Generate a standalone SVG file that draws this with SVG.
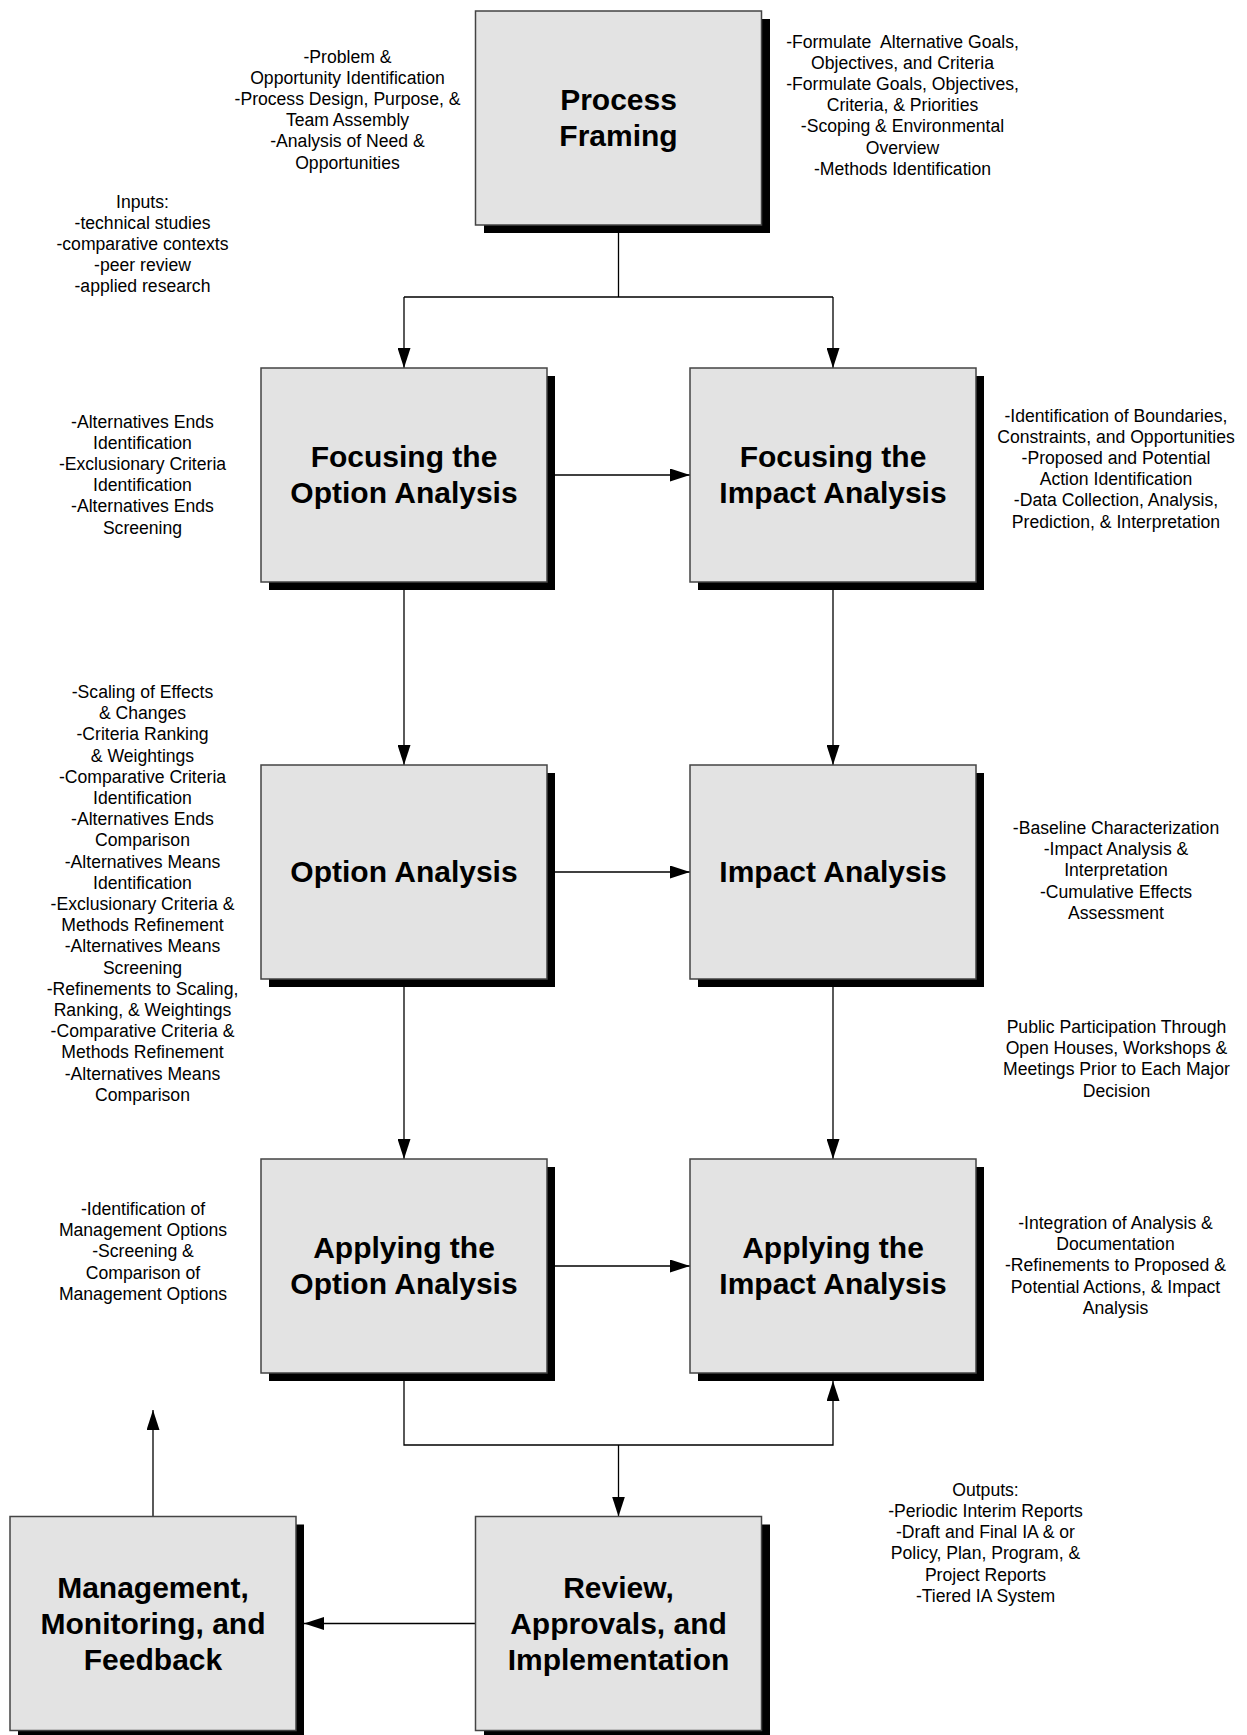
<svg xmlns="http://www.w3.org/2000/svg" width="1247" height="1735" viewBox="0 0 1247 1735">
<style>
.box{fill:#e3e3e3;stroke:#444;stroke-width:1.5}
.shd{fill:#000}
.ttl{font-family:"Liberation Sans",Arial,sans-serif;font-weight:bold;font-size:30px;text-anchor:middle;fill:#000}
.note{font-family:"Liberation Sans",Arial,sans-serif;font-size:17.6px;text-anchor:middle;fill:#000}
.ln{fill:none;stroke:#000;stroke-width:1.3}
</style>
<defs>
<marker id="ah" markerUnits="userSpaceOnUse" markerWidth="20" markerHeight="13" refX="20" refY="6.5" orient="auto">
<path d="M0,0 L20,6.5 L0,13 z" fill="#000"/>
</marker>
</defs>
<rect width="1247" height="1735" fill="#fff"/>

<g id="connectors">
<path class="ln" d="M618.5,225 V297 M404,297 H833"/>
<path class="ln" d="M404,297 V368" marker-end="url(#ah)"/>
<path class="ln" d="M833,297 V368" marker-end="url(#ah)"/>
<path class="ln" d="M547,475 H690" marker-end="url(#ah)"/>
<path class="ln" d="M404,582 V765" marker-end="url(#ah)"/>
<path class="ln" d="M833,582 V765" marker-end="url(#ah)"/>
<path class="ln" d="M547,872 H690" marker-end="url(#ah)"/>
<path class="ln" d="M404,979 V1159" marker-end="url(#ah)"/>
<path class="ln" d="M833,979 V1159" marker-end="url(#ah)"/>
<path class="ln" d="M547,1266 H690" marker-end="url(#ah)"/>
<path class="ln" d="M404,1373 V1445 H833 V1381" marker-end="url(#ah)"/>
<path class="ln" d="M618.5,1445 V1516.5" marker-end="url(#ah)"/>
<path class="ln" d="M475.5,1623.5 H304" marker-end="url(#ah)"/>
<path class="ln" d="M153,1516.5 V1410" marker-end="url(#ah)"/>
</g>

<g id="process-framing">
<rect class="shd" x="484" y="19" width="286" height="214"/>
<rect class="box" x="475.5" y="11" width="286" height="214"/>
<text class="ttl"><tspan x="618.5" y="109.5">Process</tspan><tspan x="618.5" y="145.5">Framing</tspan></text>
</g>

<g id="focusing-option">
<rect class="shd" x="269" y="376" width="286" height="214"/>
<rect class="box" x="261" y="368" width="286" height="214"/>
<text class="ttl"><tspan x="404" y="466.75">Focusing the</tspan><tspan x="404" y="502.75">Option Analysis</tspan></text>
</g>

<g id="focusing-impact">
<rect class="shd" x="698" y="376" width="286" height="214"/>
<rect class="box" x="690" y="368" width="286" height="214"/>
<text class="ttl"><tspan x="833" y="466.75">Focusing the</tspan><tspan x="833" y="502.75">Impact Analysis</tspan></text>
</g>

<g id="option-analysis">
<rect class="shd" x="269" y="773" width="286" height="214"/>
<rect class="box" x="261" y="765" width="286" height="214"/>
<text class="ttl" x="404" y="882">Option Analysis</text>
</g>

<g id="impact-analysis">
<rect class="shd" x="698" y="773" width="286" height="214"/>
<rect class="box" x="690" y="765" width="286" height="214"/>
<text class="ttl" x="833" y="882">Impact Analysis</text>
</g>

<g id="applying-option">
<rect class="shd" x="269" y="1167" width="286" height="214"/>
<rect class="box" x="261" y="1159" width="286" height="214"/>
<text class="ttl"><tspan x="404" y="1258">Applying the</tspan><tspan x="404" y="1294">Option Analysis</tspan></text>
</g>

<g id="applying-impact">
<rect class="shd" x="698" y="1167" width="286" height="214"/>
<rect class="box" x="690" y="1159" width="286" height="214"/>
<text class="ttl"><tspan x="833" y="1258">Applying the</tspan><tspan x="833" y="1294">Impact Analysis</tspan></text>
</g>

<g id="review">
<rect class="shd" x="484" y="1524.5" width="286" height="214"/>
<rect class="box" x="475.5" y="1516.5" width="286" height="214"/>
<text class="ttl"><tspan x="618.5" y="1597.5">Review,</tspan><tspan x="618.5" y="1633.5">Approvals, and</tspan><tspan x="618.5" y="1669.5">Implementation</tspan></text>
</g>

<g id="management">
<rect class="shd" x="18" y="1524.5" width="286" height="214"/>
<rect class="box" x="10" y="1516.5" width="286" height="214"/>
<text class="ttl"><tspan x="153" y="1597.5">Management,</tspan><tspan x="153" y="1633.5">Monitoring, and</tspan><tspan x="153" y="1669.5">Feedback</tspan></text>
</g>

<g id="notes">
<text class="note"><tspan x="347.5" y="62.5">-Problem &amp;</tspan><tspan x="347.5" dy="21.2">Opportunity Identification</tspan><tspan x="347.5" dy="21.2">-Process Design, Purpose, &amp;</tspan><tspan x="347.5" dy="21.2">Team Assembly</tspan><tspan x="347.5" dy="21.2">-Analysis of Need &amp;</tspan><tspan x="347.5" dy="21.2">Opportunities</tspan></text>

<text class="note"><tspan x="142.5" y="207.5">Inputs:</tspan><tspan x="142.5" dy="21.2">-technical studies</tspan><tspan x="142.5" dy="21.2">-comparative contexts</tspan><tspan x="142.5" dy="21.2">-peer review</tspan><tspan x="142.5" dy="21.2">-applied research</tspan></text>

<text class="note" xml:space="preserve"><tspan x="902.5" y="47.5">-Formulate  Alternative Goals,</tspan><tspan x="902.5" dy="21.2">Objectives, and Criteria</tspan><tspan x="902.5" dy="21.2">-Formulate Goals, Objectives,</tspan><tspan x="902.5" dy="21.2">Criteria, &amp; Priorities</tspan><tspan x="902.5" dy="21.2">-Scoping &amp; Environmental</tspan><tspan x="902.5" dy="21.2">Overview</tspan><tspan x="902.5" dy="21.2">-Methods Identification</tspan></text>

<text class="note"><tspan x="142.5" y="427.5">-Alternatives Ends</tspan><tspan x="142.5" dy="21.2">Identification</tspan><tspan x="142.5" dy="21.2">-Exclusionary Criteria</tspan><tspan x="142.5" dy="21.2">Identification</tspan><tspan x="142.5" dy="21.2">-Alternatives Ends</tspan><tspan x="142.5" dy="21.2">Screening</tspan></text>

<text class="note"><tspan x="1116" y="421.5">-Identification of Boundaries,</tspan><tspan x="1116" dy="21.2">Constraints, and Opportunities</tspan><tspan x="1116" dy="21.2">-Proposed and Potential</tspan><tspan x="1116" dy="21.2">Action Identification</tspan><tspan x="1116" dy="21.2">-Data Collection, Analysis,</tspan><tspan x="1116" dy="21.2">Prediction, &amp; Interpretation</tspan></text>

<text class="note"><tspan x="142.5" y="698">-Scaling of Effects</tspan><tspan x="142.5" dy="21.2">&amp; Changes</tspan><tspan x="142.5" dy="21.2">-Criteria Ranking</tspan><tspan x="142.5" dy="21.2">&amp; Weightings</tspan><tspan x="142.5" dy="21.2">-Comparative Criteria</tspan><tspan x="142.5" dy="21.2">Identification</tspan><tspan x="142.5" dy="21.2">-Alternatives Ends</tspan><tspan x="142.5" dy="21.2">Comparison</tspan><tspan x="142.5" dy="21.2">-Alternatives Means</tspan><tspan x="142.5" dy="21.2">Identification</tspan><tspan x="142.5" dy="21.2">-Exclusionary Criteria &amp;</tspan><tspan x="142.5" dy="21.2">Methods Refinement</tspan><tspan x="142.5" dy="21.2">-Alternatives Means</tspan><tspan x="142.5" dy="21.2">Screening</tspan><tspan x="142.5" dy="21.2">-Refinements to Scaling,</tspan><tspan x="142.5" dy="21.2">Ranking, &amp; Weightings</tspan><tspan x="142.5" dy="21.2">-Comparative Criteria &amp;</tspan><tspan x="142.5" dy="21.2">Methods Refinement</tspan><tspan x="142.5" dy="21.2">-Alternatives Means</tspan><tspan x="142.5" dy="21.2">Comparison</tspan></text>

<text class="note"><tspan x="1116" y="834">-Baseline Characterization</tspan><tspan x="1116" dy="21.2">-Impact Analysis &amp;</tspan><tspan x="1116" dy="21.2">Interpretation</tspan><tspan x="1116" dy="21.2">-Cumulative Effects</tspan><tspan x="1116" dy="21.2">Assessment</tspan></text>

<text class="note"><tspan x="1116.5" y="1033">Public Participation Through</tspan><tspan x="1116.5" dy="21.2">Open Houses, Workshops &amp;</tspan><tspan x="1116.5" dy="21.2">Meetings Prior to Each Major</tspan><tspan x="1116.5" dy="21.2">Decision</tspan></text>

<text class="note"><tspan x="143" y="1215">-Identification of</tspan><tspan x="143" dy="21.2">Management Options</tspan><tspan x="143" dy="21.2">-Screening &amp;</tspan><tspan x="143" dy="21.2">Comparison of</tspan><tspan x="143" dy="21.2">Management Options</tspan></text>

<text class="note"><tspan x="1115.5" y="1229">-Integration of Analysis &amp;</tspan><tspan x="1115.5" dy="21.2">Documentation</tspan><tspan x="1115.5" dy="21.2">-Refinements to Proposed &amp;</tspan><tspan x="1115.5" dy="21.2">Potential Actions, &amp; Impact</tspan><tspan x="1115.5" dy="21.2">Analysis</tspan></text>

<text class="note"><tspan x="985.5" y="1495.5">Outputs:</tspan><tspan x="985.5" dy="21.3">-Periodic Interim Reports</tspan><tspan x="985.5" dy="21.3">-Draft and Final IA &amp; or</tspan><tspan x="985.5" dy="21.3">Policy, Plan, Program, &amp;</tspan><tspan x="985.5" dy="21.3">Project Reports</tspan><tspan x="985.5" dy="21.3">-Tiered IA System</tspan></text>
</g>
</svg>
